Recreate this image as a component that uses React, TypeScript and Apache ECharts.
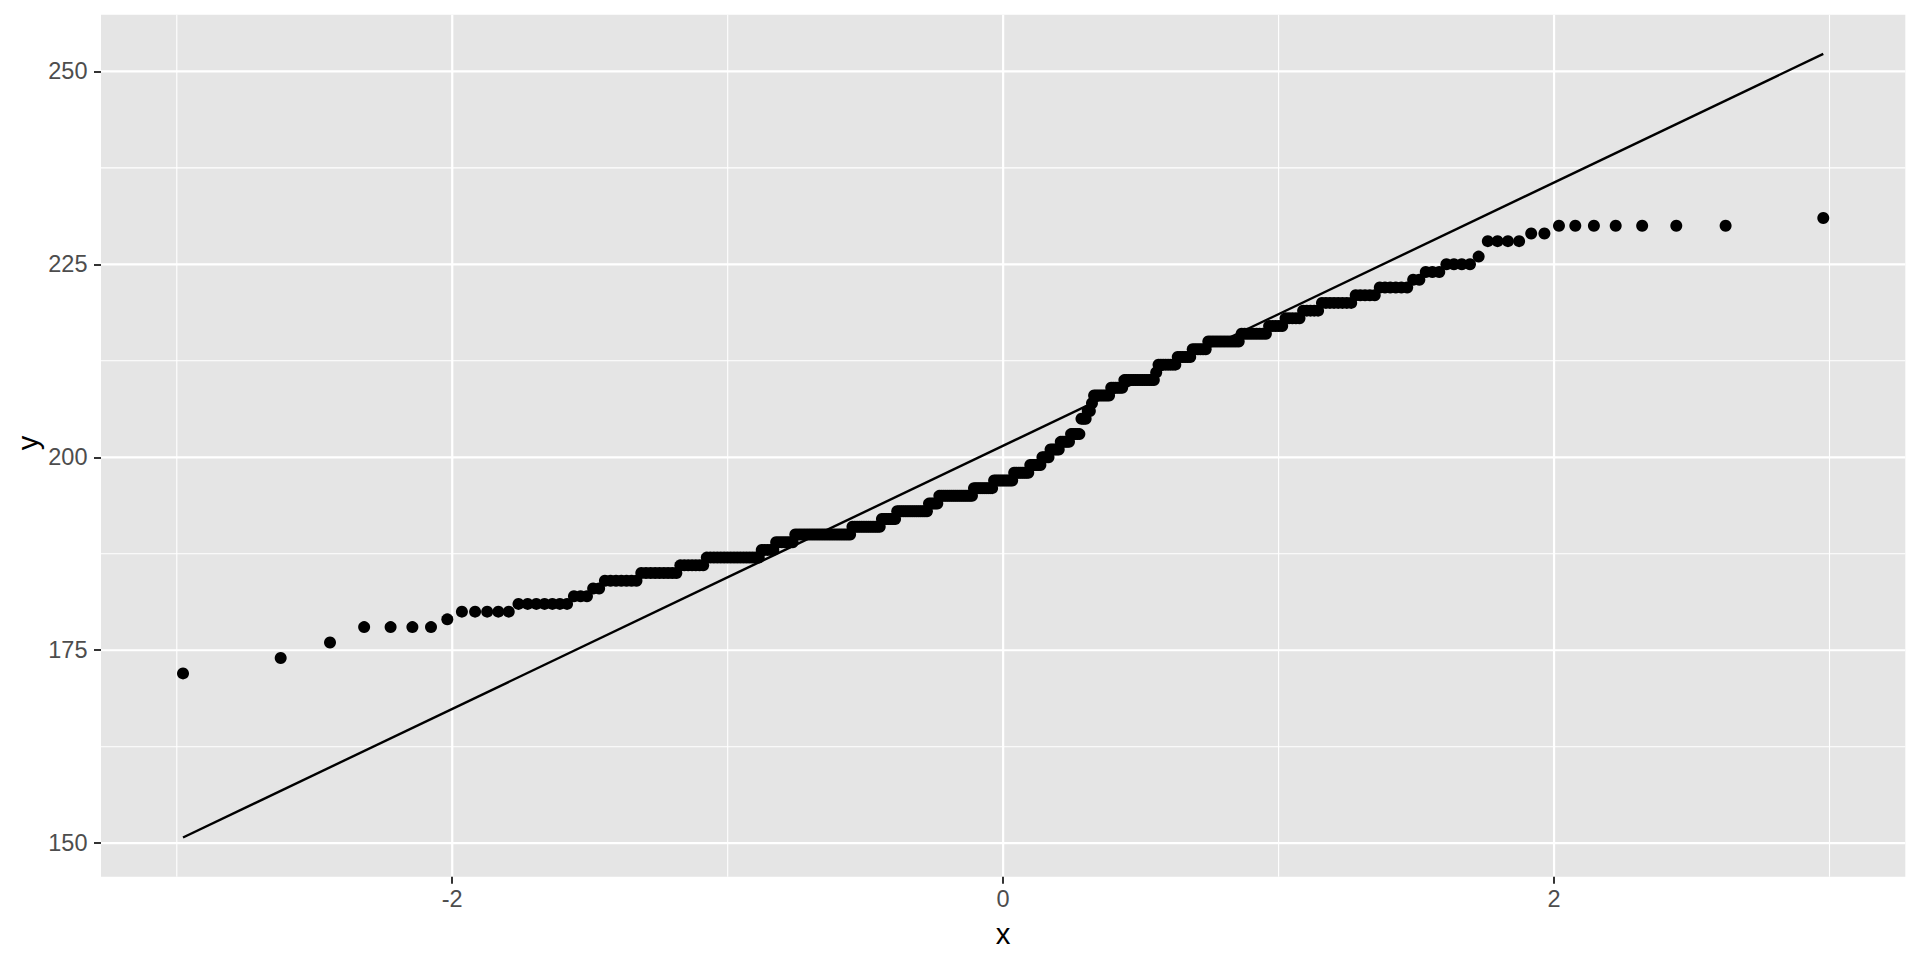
import React, { useEffect, useRef } from "react";
import * as echarts from "echarts";

// Sample values (sorted, distinct) and how many observations share each value
const sampleValues = [
  172, 174, 176, 178, 179, 180, 181, 182, 183, 184, 185, 186, 187, 188, 189,
  190, 191, 192, 193, 194, 195, 196, 197, 198, 199, 200, 201, 202, 203, 205,
  206, 207, 208, 209, 210, 211, 212, 213, 214, 215, 216, 217, 218, 219, 220,
  221, 222, 223, 224, 225, 226, 228, 229, 230, 231,
];
const sampleCounts = [
  1, 1, 1, 4, 1, 5, 7, 3, 2, 7, 9, 7, 17, 5, 7,
  23, 13, 7, 15, 5, 17, 10, 10, 8, 6, 4, 5, 5, 5, 3,
  2, 1, 8, 6, 14, 1, 8, 6, 6, 12, 9, 5, 5, 5, 8,
  5, 6, 2, 3, 4, 1, 4, 2, 7, 1,
];

const xTickValues = [-2, 0, 2];
const xMinorValues = [-3, -1, 1, 3];
const yTickValues = [150, 175, 200, 225, 250];
const yMinorValues = [162.5, 187.5, 212.5, 237.5];

// inverse standard normal CDF (Acklam)
function qnorm(p: number): number {
  const a = [-3.969683028665376e1, 2.209460984245205e2, -2.759285104469687e2, 1.38357751867269e2, -3.066479806614716e1, 2.506628277459239];
  const b = [-5.447609879822406e1, 1.615858368580409e2, -1.556989798598866e2, 6.680131188771972e1, -1.328068155288572e1];
  const c = [-7.784894002430293e-3, -3.223964580411365e-1, -2.400758277161838, -2.549732539343734, 4.374664141464968, 2.938163982698783];
  const d = [7.784695709041462e-3, 3.224671290700398e-1, 2.445134137142996, 3.754408661907416];
  const pl = 0.02425;
  let q: number, r: number;
  if (p < pl) {
    q = Math.sqrt(-2 * Math.log(p));
    return (((((c[0] * q + c[1]) * q + c[2]) * q + c[3]) * q + c[4]) * q + c[5]) / ((((d[0] * q + d[1]) * q + d[2]) * q + d[3]) * q + 1);
  } else if (p <= 1 - pl) {
    q = p - 0.5;
    r = q * q;
    return ((((((a[0] * r + a[1]) * r + a[2]) * r + a[3]) * r + a[4]) * r + a[5]) * q) / (((((b[0] * r + b[1]) * r + b[2]) * r + b[3]) * r + b[4]) * r + 1);
  } else {
    q = Math.sqrt(-2 * Math.log(1 - p));
    return -(((((c[0] * q + c[1]) * q + c[2]) * q + c[3]) * q + c[4]) * q + c[5]) / ((((d[0] * q + d[1]) * q + d[2]) * q + d[3]) * q + 1);
  }
}

function quantile7(sorted: number[], prob: number): number {
  const h = (sorted.length - 1) * prob;
  const lo = Math.floor(h);
  const hi = Math.min(lo + 1, sorted.length - 1);
  return sorted[lo] + (h - lo) * (sorted[hi] - sorted[lo]);
}

export default function App() {
  const ref = useRef<HTMLDivElement>(null);

  useEffect(() => {
    if (!ref.current) return;
    const chart = echarts.init(ref.current, undefined, { renderer: "svg" });

    // stat_qq
    const sample: number[] = [];
    sampleValues.forEach((v, i) => {
      for (let k = 0; k < sampleCounts[i]; k++) sample.push(v);
    });
    const n = sample.length;
    const aConst = n <= 10 ? 3 / 8 : 0.5;
    const points = sample.map((v, i) => [qnorm((i + 1 - aConst) / (n + 1 - 2 * aConst)), v]);

    // stat_qq_line
    const y25 = quantile7(sample, 0.25);
    const y75 = quantile7(sample, 0.75);
    const x25 = qnorm(0.25);
    const x75 = qnorm(0.75);
    const slope = (y75 - y25) / (x75 - x25);
    const intercept = y25 - slope * x25;
    const xLo = points[0][0];
    const xHi = points[n - 1][0];
    const linePts = [
      [xLo, intercept + slope * xLo],
      [xHi, intercept + slope * xHi],
    ];

    const dataXMin = xLo, dataXMax = xHi;
    const dataYMin = Math.min(sample[0], linePts[0][1], linePts[1][1]);
    const dataYMax = Math.max(sample[n - 1], linePts[0][1], linePts[1][1]);
    const ex = (dataXMax - dataXMin) * 0.05;
    const ey = (dataYMax - dataYMin) * 0.05;
    const xMin = dataXMin - ex, xMax = dataXMax + ex;
    const yMin = dataYMin - ey, yMax = dataYMax + ey;

    const font = "'Liberation Sans', Arial, Helvetica, sans-serif";

    const xGridData = [
      ...xMinorValues.map((v) => [v, yMin, 1.1]),
      ...xTickValues.map((v) => [v, yMin, 2.2]),
    ];
    const yGridData = [
      ...yMinorValues.map((v) => [xMin, v, 1.1]),
      ...yTickValues.map((v) => [xMin, v, 2.2]),
    ];

    chart.setOption({
      animation: false,
      backgroundColor: "#FFFFFF",
      grid: {
        left: 101,
        right: 14.7,
        top: 14.7,
        bottom: 83.3,
        show: true,
        backgroundColor: "#E5E5E5",
        borderWidth: 0,
        containLabel: false,
      },
      xAxis: {
        type: "value",
        min: xMin,
        max: xMax,
        axisLine: { show: false, onZero: false },
        splitLine: { show: false },
        axisTick: {
          show: true,
          customValues: xTickValues,
          length: 7,
          lineStyle: { color: "#333333", width: 2 },
        },
        axisLabel: {
          customValues: xTickValues,
          color: "#4D4D4D",
          fontSize: 23.5,
          fontFamily: font,
          margin: 10,
          formatter: (v: number) => String(v),
        },
      },
      yAxis: {
        type: "value",
        min: yMin,
        max: yMax,
        axisLine: { show: false, onZero: false },
        splitLine: { show: false },
        axisTick: {
          show: true,
          customValues: yTickValues,
          length: 7,
          lineStyle: { color: "#333333", width: 2 },
        },
        axisLabel: {
          customValues: yTickValues,
          color: "#4D4D4D",
          fontSize: 23.5,
          fontFamily: font,
          margin: 13.5,
          formatter: (v: number) => String(v),
        },
      },
      graphic: [
        {
          type: "text",
          x: 1003,
          y: 933,
          style: { text: "x", fontSize: 29.3, fontFamily: font, fill: "#000", align: "center", verticalAlign: "middle" },
        },
        {
          type: "text",
          x: 27,
          y: 443,
          rotation: Math.PI / 2,
          style: { text: "y", fontSize: 29.3, fontFamily: font, fill: "#000", align: "center", verticalAlign: "middle" },
        },
      ],
      series: [
        {
          type: "custom",
          z: 0,
          silent: true,
          data: xGridData,
          encode: { x: 0, y: 1 },
          renderItem: (params: any, api: any) => {
            const cs = params.coordSys;
            const p = api.coord([api.value(0), api.value(1)]);
            return {
              type: "line",
              shape: { x1: p[0], y1: cs.y, x2: p[0], y2: cs.y + cs.height },
              style: { stroke: "#FFFFFF", lineWidth: api.value(2) },
            };
          },
        },
        {
          type: "custom",
          z: 0,
          silent: true,
          data: yGridData,
          encode: { x: 0, y: 1 },
          renderItem: (params: any, api: any) => {
            const cs = params.coordSys;
            const p = api.coord([api.value(0), api.value(1)]);
            return {
              type: "line",
              shape: { x1: cs.x, y1: p[1], x2: cs.x + cs.width, y2: p[1] },
              style: { stroke: "#FFFFFF", lineWidth: api.value(2) },
            };
          },
        },
        {
          type: "scatter",
          z: 2,
          data: points,
          symbol: "circle",
          symbolSize: 12,
          itemStyle: { color: "#000000", opacity: 1 },
          silent: true,
        },
        {
          type: "line",
          z: 3,
          data: linePts,
          symbol: "none",
          lineStyle: { color: "#000000", width: 2.4 },
          silent: true,
        },
      ],
    });

    return () => chart.dispose();
  }, []);

  return (
    <div
      ref={ref}
      style={{ position: "fixed", left: 0, top: 0, width: 1920, height: 960 }}
    />
  );
}
